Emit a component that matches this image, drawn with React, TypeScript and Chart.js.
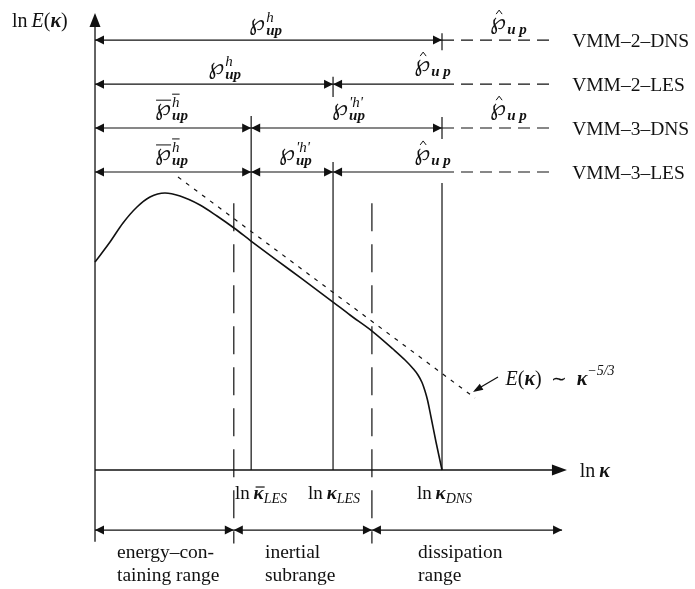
import React, { useEffect, useRef } from 'react';
import { Chart, registerables } from 'chart.js';
Chart.register(...registerables);

const SERIF = '"Liberation Serif", "Times New Roman", serif';
const SYM = '"DejaVu Serif", "DejaVu Sans", serif';
const INK = '#111';

// Energy spectrum: ln κ vs ln E(κ) (schematic units)
const curveLnK = [0, 0.432, 0.807, 1.21, 1.585, 2.017, 2.45, 3.026, 3.516, 4.006, 4.496, 5.62, 6.859, 7.349, 7.983, 8.588, 8.934, 9.164, 9.308, 9.424, 9.51, 9.582, 9.683, 9.827, 10];
const curveLnE = [5.994, 6.571, 7.118, 7.579, 7.867, 7.983, 7.896, 7.637, 7.32, 6.974, 6.599, 5.764, 4.84, 4.467, 4.006, 3.487, 3.17, 2.925, 2.738, 2.522, 2.277, 2.017, 1.527, 0.807, 0];

// Kolmogorov -5/3 reference line
const slopeLnK = [2.392, 10.951];
const slopeLnE = [8.444, 2.075];

// Cut-off wavenumbers
const cutoffLnK = [4.5, 6.86, 10];
const cutoffTop = [10.2, 8.876, 8.27];
const cutoffSub = ['LES', 'LES', 'DNS'];
const cutoffBar = [true, false, false];
const cutoffTextLnK = [4.035, 6.14, 9.28];

// Range boundaries
const rangeSplitLnK = [4.0, 7.98];
const rangeEndLnK = 13.46;
const rangeLevel = -1.73;
const rangeLines = [['energy–con-', 'taining range'], ['inertial', 'subrange'], ['dissipation', 'range']];
const rangeTextLnK = [0.634, 4.899, 9.308];

// Methods (rows)
const methodNames = ['VMM–2–DNS', 'VMM–2–LES', 'VMM–3–DNS', 'VMM–3–LES'];
const methodLevel = [12.39, 11.12, 9.856, 8.588];
const rowDashEnd = 13.26;

const X_MIN = -2.738, X_MAX = 17.291, Y_MIN = -3.429, Y_MAX = 13.545;

type Seg = { a: number; b: number; sa: boolean; ea: boolean };
const rowSegs: Seg[][] = [
  [{ a: 0, b: 10, sa: true, ea: true }],
  [{ a: 0, b: 6.86, sa: true, ea: true }, { a: 6.86, b: 10, sa: true, ea: false }],
  [{ a: 0, b: 4.5, sa: true, ea: true }, { a: 4.5, b: 10, sa: true, ea: true }],
  [{ a: 0, b: 4.5, sa: true, ea: true }, { a: 4.5, b: 6.86, sa: true, ea: true }, { a: 6.86, b: 10, sa: true, ea: false }],
];
// tick marks [lnK, low, high]
const rowTicks = [[10, 12.1, 12.59], [6.86, 10.75, 11.33], [10, 9.54, 10.17]];

type Lab = { x: number; y: number; sup?: string; sub: string; bar?: boolean; hat?: boolean };
const symLabels: Lab[] = [
  { x: 4.9, y: 12.82, sup: 'h', sub: 'up' },
  { x: 11.9, y: 12.85, sub: 'u p', hat: true },
  { x: 3.72, y: 11.56, sup: 'h', sub: 'up' },
  { x: 9.71, y: 11.64, sub: 'u p', hat: true },
  { x: 2.19, y: 10.37, sup: 'h', sub: 'up', bar: true },
  { x: 7.29, y: 10.37, sup: "'h'", sub: 'up' },
  { x: 11.9, y: 10.37, sub: 'u p', hat: true },
  { x: 2.19, y: 9.08, sup: 'h', sub: 'up', bar: true },
  { x: 5.76, y: 9.08, sup: "'h'", sub: 'up' },
  { x: 9.71, y: 9.08, sub: 'u p', hat: true },
];

function seg(x1: number, y1: number, x2: number, y2: number, w = 1.2, dash: number[] = []) {
  return {
    data: [{ x: x1, y: y1 }, { x: x2, y: y2 }],
    showLine: true, borderColor: INK, borderWidth: w, borderDash: dash,
    pointRadius: 0, fill: false,
  };
}

function arrowHead(ctx: CanvasRenderingContext2D, tx: number, ty: number, dx: number, dy: number, len: number, half: number) {
  const n = Math.hypot(dx, dy); const ux = dx / n, uy = dy / n;
  const bx = tx - ux * len, by = ty - uy * len;
  ctx.beginPath();
  ctx.moveTo(tx, ty);
  ctx.lineTo(bx - uy * half, by + ux * half);
  ctx.lineTo(bx + uy * half, by - ux * half);
  ctx.closePath();
  ctx.fill();
}

type Part = { t: string; f: string; dy?: number; bar?: boolean };
function drawParts(ctx: CanvasRenderingContext2D, parts: Part[], x: number, y: number, align: 'left' | 'center') {
  let w = 0;
  const ws = parts.map(p => { ctx.font = p.f; const m = ctx.measureText(p.t).width; w += m; return m; });
  let cx = align === 'center' ? x - w / 2 : x;
  parts.forEach((p, i) => {
    ctx.font = p.f;
    ctx.fillText(p.t, cx, y + (p.dy || 0));
    if (p.bar) {
      ctx.lineWidth = 1.2;
      ctx.beginPath(); ctx.moveTo(cx + 2, y - 12); ctx.lineTo(cx + ws[i] + 1, y - 12); ctx.stroke();
    }
    cx += ws[i];
  });
}

function drawSym(ctx: CanvasRenderingContext2D, cx: number, cy: number, l: Lab) {
  ctx.font = `23px ${SYM}`;
  const ws = ctx.measureText('℘').width;
  const supF = `italic 15px ${SERIF}`;
  const subF = `italic bold 15px ${SERIF}`;
  ctx.font = supF; const wsup = l.sup ? ctx.measureText(l.sup).width : 0;
  ctx.font = subF; const wsub = ctx.measureText(l.sub).width;
  const w = ws + Math.max(wsup, wsub);
  const x0 = cx - w / 2;
  ctx.font = `23px ${SYM}`;
  ctx.fillText('℘', x0, cy + 5);
  if (l.sup) { ctx.font = supF; ctx.fillText(l.sup, x0 + ws + 1, cy - 3); }
  ctx.font = subF; ctx.fillText(l.sub, x0 + ws + 1, cy + 10);
  ctx.lineWidth = 1;
  if (l.bar) {
    ctx.beginPath(); ctx.moveTo(x0 + 1, cy - 10); ctx.lineTo(x0 + ws, cy - 10); ctx.stroke();
    ctx.beginPath(); ctx.moveTo(x0 + ws + 1, cy - 16); ctx.lineTo(x0 + ws + wsup + 1, cy - 16); ctx.stroke();
  }
  if (l.hat) {
    const hx = x0 + ws / 2 + 1;
    ctx.beginPath(); ctx.moveTo(hx - 3, cy - 10); ctx.lineTo(hx, cy - 14); ctx.lineTo(hx + 3, cy - 10); ctx.stroke();
  }
}

const diagramPlugin = {
  id: 'diagram',
  afterDatasetsDraw(chart: any) {
    const ctx: CanvasRenderingContext2D = chart.ctx;
    const xs = chart.scales.x, ys = chart.scales.y;
    const px = (u: number) => xs.getPixelForValue(u);
    const py = (v: number) => ys.getPixelForValue(v);
    ctx.save();
    ctx.fillStyle = INK; ctx.strokeStyle = INK; ctx.textBaseline = 'alphabetic';

    // axis arrows
    arrowHead(ctx, px(0), py(13.17), 0, -1, 14, 5.5);
    arrowHead(ctx, px(13.6), py(0), 1, 0, 15, 5.5);

    // row arrows
    rowSegs.forEach((segs, r) => {
      const y = py(methodLevel[r]);
      segs.forEach(s => {
        if (s.sa) arrowHead(ctx, px(s.a), y, -1, 0, 9, 4.5);
        if (s.ea) arrowHead(ctx, px(s.b), y, 1, 0, 9, 4.5);
      });
    });
    // range arrows
    const bounds = [0, ...rangeSplitLnK, rangeEndLnK];
    for (let i = 0; i < bounds.length - 1; i++) {
      arrowHead(ctx, px(bounds[i]), py(rangeLevel), -1, 0, 9, 4.5);
      arrowHead(ctx, px(bounds[i + 1]), py(rangeLevel), 1, 0, 9, 4.5);
    }
    // annotation arrow head
    arrowHead(ctx, px(10.893), py(2.248), px(10.893) - px(11.614), py(2.248) - py(2.68), 10, 3.5);

    // method names
    ctx.font = `19.5px ${SERIF}`;
    methodNames.forEach((n, i) => ctx.fillText(n, px(13.75), py(methodLevel[i]) + 7));

    // symbol labels
    symLabels.forEach(l => drawSym(ctx, px(l.x), py(l.y), l));

    // y-axis label
    drawParts(ctx, [
      { t: 'ln', f: `20px ${SERIF}` },
      { t: '\u2009', f: `20px ${SERIF}` },
      { t: 'E', f: `italic 20px ${SERIF}` },
      { t: '(', f: `20px ${SERIF}` },
      { t: 'κ', f: `italic bold 20px ${SERIF}` },
      { t: ')', f: `20px ${SERIF}` },
    ], 12, 27, 'left');

    // x-axis label
    drawParts(ctx, [
      { t: 'ln', f: `20px ${SERIF}` },
      { t: '\u2009', f: `20px ${SERIF}` },
      { t: 'κ', f: `italic bold 20px ${SERIF}` },
    ], px(13.97), py(0) + 7, 'left');

    // cut-off labels
    cutoffLnK.forEach((_, i) => {
      drawParts(ctx, [
        { t: 'ln', f: `19px ${SERIF}` },
        { t: '\u2009', f: `19px ${SERIF}` },
        { t: 'κ', f: `italic bold 19px ${SERIF}`, bar: cutoffBar[i] },
        { t: cutoffSub[i], f: `italic 14px ${SERIF}`, dy: 4 },
      ], px(cutoffTextLnK[i]), py(0) + 29, 'left');
    });

    // -5/3 annotation
    drawParts(ctx, [
      { t: 'E', f: `italic 20px ${SERIF}` },
      { t: '(', f: `20px ${SERIF}` },
      { t: 'κ', f: `italic bold 20px ${SERIF}` },
      { t: ')', f: `20px ${SERIF}` },
      { t: '  ∼  ', f: `19px ${SERIF}` },
      { t: 'κ', f: `italic bold 20px ${SERIF}` },
      { t: '−5/3', f: `italic 14px ${SERIF}`, dy: -10 },
    ], px(11.83), py(2.6) + 5, 'left');

    // range labels
    ctx.font = `19.5px ${SERIF}`;
    rangeLines.forEach((lines, i) => {
      lines.forEach((t, j) => ctx.fillText(t, px(rangeTextLnK[i]), py(rangeLevel) + 28 + j * 23));
    });
    ctx.restore();
  },
};

export default function App() {
  const ref = useRef<HTMLCanvasElement | null>(null);
  useEffect(() => {
    if (!ref.current) return;
    const datasets: any[] = [];
    datasets.push({
      data: curveLnK.map((k, i) => ({ x: k, y: curveLnE[i] })),
      showLine: true, borderColor: INK, borderWidth: 1.6, pointRadius: 0,
      cubicInterpolationMode: 'monotone', fill: false,
    });
    datasets.push(seg(slopeLnK[0], slopeLnE[0], slopeLnK[1], slopeLnE[1], 1.2, [4, 6]));
    datasets.push(seg(0, 12.9, 0, -2.07, 1.3));
    datasets.push(seg(0, 0, 13.3, 0, 1.3));
    cutoffLnK.forEach((k, i) => datasets.push(seg(k, cutoffTop[i], k, 0, 1.2)));
    rangeSplitLnK.forEach(k => datasets.push(seg(k, 7.69, k, -2.12, 1.2, [28, 13])));
    rowSegs.forEach((segs, r) => {
      segs.forEach(s => datasets.push(seg(s.a, methodLevel[r], s.b, methodLevel[r], 1.2)));
      datasets.push(seg(10, methodLevel[r], rowDashEnd, methodLevel[r], 1.2, [12, 7]));
    });
    rowTicks.forEach(t => datasets.push(seg(t[0], t[1], t[0], t[2], 1.2)));
    datasets.push(seg(0, rangeLevel, rangeEndLnK, rangeLevel, 1.2));
    datasets.push(seg(11.614, 2.68, 10.95, 2.29, 1.3));

    const chart = new Chart(ref.current, {
      type: 'scatter',
      data: { datasets },
      options: {
        animation: false,
        responsive: false,
        devicePixelRatio: 1,
        layout: { padding: 0 },
        plugins: { legend: { display: false }, tooltip: { enabled: false } },
        scales: {
          x: { type: 'linear', min: X_MIN, max: X_MAX, display: false },
          y: { type: 'linear', min: Y_MIN, max: Y_MAX, display: false },
        },
      },
      plugins: [diagramPlugin],
    });
    return () => chart.destroy();
  }, []);
  return (
    <div style={{ position: 'absolute', left: 0, top: 0, width: 695, height: 589, background: '#fff' }}>
      <canvas ref={ref} width={695} height={589} />
    </div>
  );
}
